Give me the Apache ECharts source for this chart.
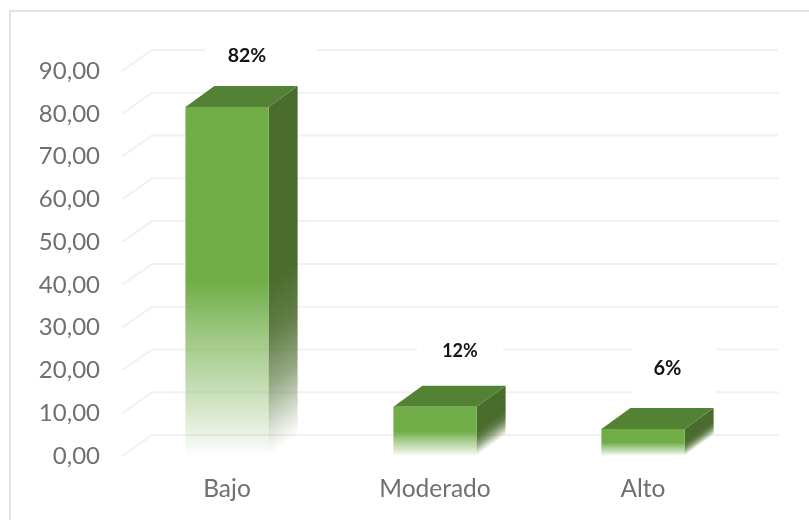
<!DOCTYPE html>
<html>
<head>
<meta charset="utf-8">
<style>html,body{margin:0;padding:0;background:#fff}#c{width:809px;height:520px}</style>
<script src="https://cdn.jsdelivr.net/npm/echarts@6/dist/echarts.min.js"></script>
</head>
<body>
<div id="c"></div>
<script>
const categories = ['Bajo', 'Moderado', 'Alto'];
const values = [81.6, 11.5, 6.3];
const valueLabels = ['82%', '12%', '6%'];
const ticks = [0, 10, 20, 30, 40, 50, 60, 70, 80, 90];

const DX = 29, DY = -21;
const FRONT = '#70ad47', TOP = '#548235', SIDE = '#4a6c2d', LINE = '#f1f1f1';
const labelStyle = [
  { dx: 20, cy: 56, size: 19.5, box: [205, 30, 112, 42] },
  { dx: 25, cy: 351, size: 18, box: [417, 335, 86, 30] },
  { dx: 24.5, cy: 368.5, size: 20, box: [632, 345, 84, 52] }
];

const chart = echarts.init(document.getElementById('c'), null, { renderer: 'canvas' });

function renderWall(params, api) {
  const cs = params.coordSys;
  const y = api.coord([0, api.value(0)])[1];
  return {
    type: 'polyline',
    shape: { points: [[cs.x - 1, y], [cs.x + DX, y + DY], [cs.x + cs.width + DX + 2, y + DY]] },
    style: { stroke: LINE, lineWidth: 2, fill: null }
  };
}

function renderBar(params, api) {
  const i = api.value(0);
  const top = api.coord([i, api.value(1)]);
  const base = api.coord([i, 0]);
  const w = api.size([1, 0])[0] * 0.4;
  const xl = top[0] - w / 2, xr = top[0] + w / 2;
  const yt = top[1], yb = base[1];
  const h = yb - yt;
  const ymid = yt + h * 0.5;
  const d = h * 0.5;
  const st = labelStyle[i];
  return {
    type: 'group',
    children: [
      { type: 'rect', shape: { x: st.box[0], y: st.box[1], width: st.box[2], height: st.box[3] }, style: { fill: '#fff' } },
      { type: 'text', style: { text: valueLabels[i], x: top[0] + st.dx, y: st.cy, fill: '#141414', align: 'center', verticalAlign: 'middle', font: 'bold ' + st.size + 'px Lato' } },
      { type: 'polygon', shape: { points: [[xr, yt], [xr + DX, yt + DY], [xr + DX, yb + DY], [xr, yb]] },
        style: { fill: new echarts.graphic.LinearGradient(xr, ymid, xr + d * 0.475, ymid + d * 0.656, [
          { offset: 0, color: SIDE },
          { offset: 0.3, color: 'rgba(74,108,45,0.88)' },
          { offset: 0.6, color: 'rgba(74,108,45,0.58)' },
          { offset: 0.85, color: 'rgba(74,108,45,0.2)' },
          { offset: 1, color: 'rgba(74,108,45,0)' }
        ], true) } },
      { type: 'polygon', shape: { points: [[xl, yt], [xl + DX, yt + DY], [xr + DX, yt + DY], [xr, yt]] }, style: { fill: TOP } },
      { type: 'rect', shape: { x: xl, y: yt, width: w, height: h },
        style: { fill: new echarts.graphic.LinearGradient(0, 0, 0, 1, [
          { offset: 0, color: FRONT },
          { offset: 0.5, color: FRONT },
          { offset: 0.64, color: 'rgba(112,173,71,0.7)' },
          { offset: 0.82, color: 'rgba(112,173,71,0.38)' },
          { offset: 0.94, color: 'rgba(112,173,71,0.14)' },
          { offset: 1, color: 'rgba(112,173,71,0)' }
        ]) } }
    ]
  };
}

chart.setOption({
  animation: false,
  backgroundColor: '#fff',
  graphic: [{ type: 'rect', z: -10, shape: { x: 10, y: 11, width: 830, height: 540 }, style: { fill: '#fff', stroke: '#e2e2e2', lineWidth: 2 } }],
  grid: { left: 123, top: 71, width: 624, height: 385 },
  xAxis: {
    type: 'category', data: categories,
    axisLine: { show: false }, axisTick: { show: false }, splitLine: { show: false },
    axisLabel: { color: '#6f6f6f', fontFamily: 'Lato', fontSize: 24.5, margin: 21 }
  },
  yAxis: {
    type: 'value', min: 0, max: 90, interval: 10,
    axisLine: { show: false }, axisTick: { show: false }, splitLine: { show: false },
    axisLabel: { color: '#6f6f6f', fontFamily: 'Lato', fontSize: 24, margin: 23, formatter: v => v.toFixed(2).replace('.', ',') }
  },
  series: [
    { type: 'custom', name: 'wall', clip: false, z: 1, silent: true, renderItem: renderWall, encode: { y: 0 }, data: ticks.map(t => [t]) },
    { type: 'custom', name: 'values', clip: false, z: 2, renderItem: renderBar, encode: { x: 0, y: 1 }, data: values.map((v, i) => [i, v]) }
  ]
});
</script>
</body>
</html>
